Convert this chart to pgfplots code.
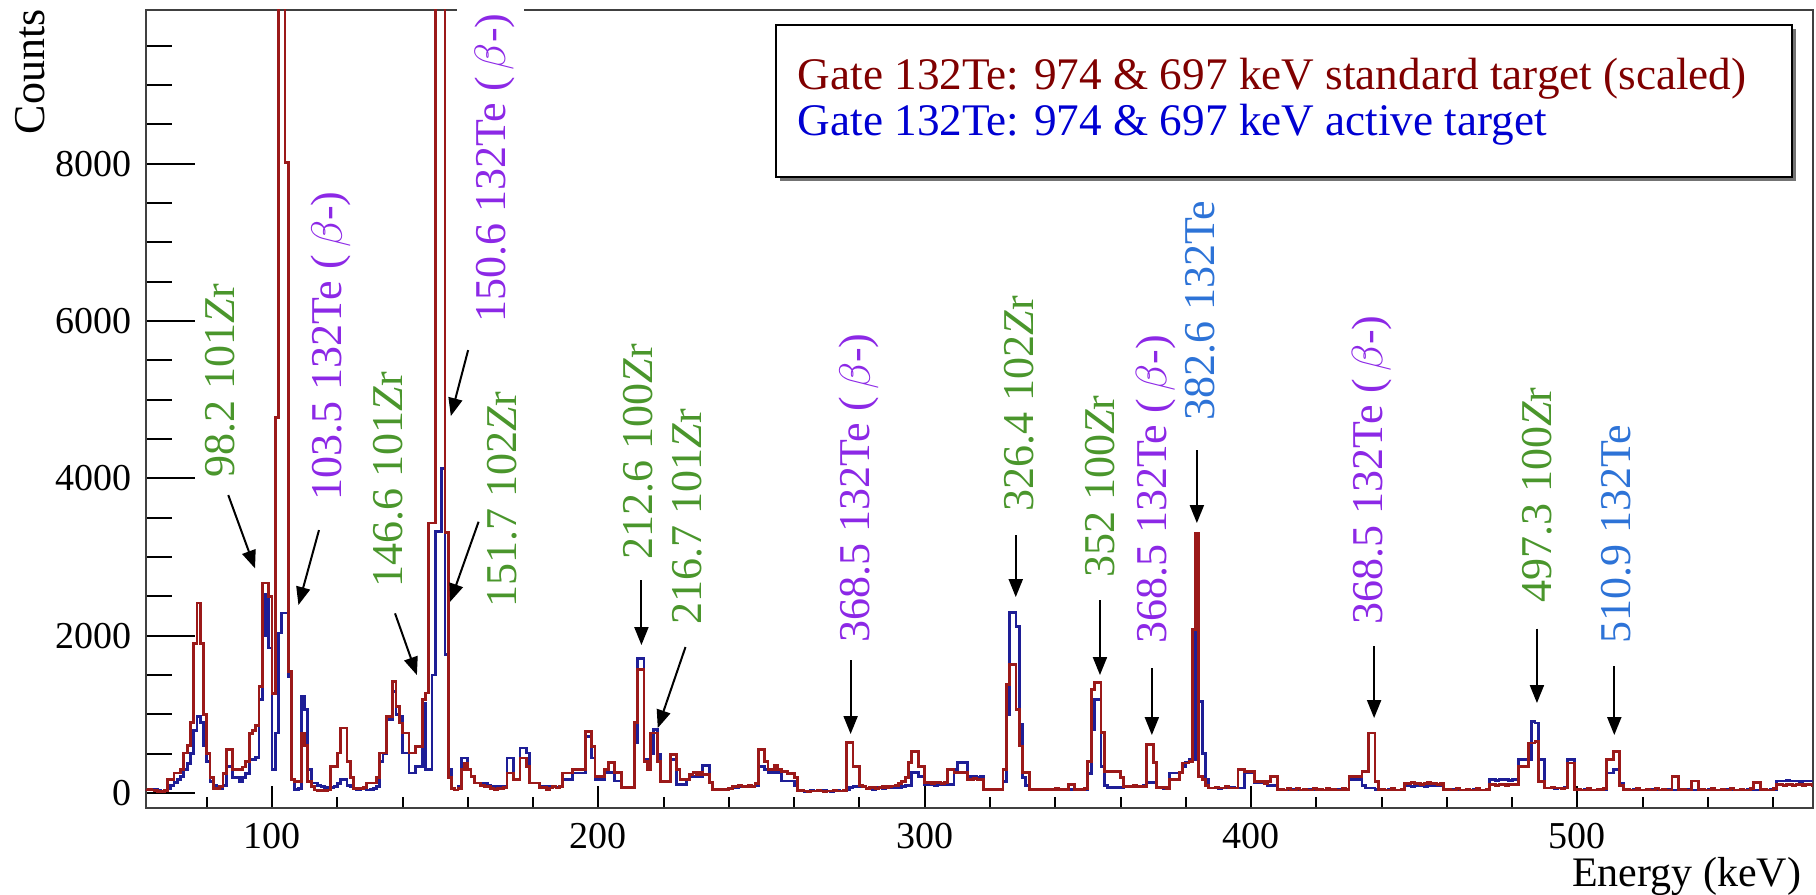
\documentclass[border=0pt]{standalone}
\usepackage{fontspec}
\setmainfont{Liberation Serif}
\usepackage{pgfplots}
\usepackage{pgfplotstable}
\pgfplotsset{compat=1.18}
\usetikzlibrary{arrows.meta}
\definecolor{hred}{RGB}{155,25,25}
\definecolor{hblue}{RGB}{30,30,150}
\definecolor{lgreen}{RGB}{74,150,44}
\definecolor{lpurple}{RGB}{140,40,230}
\definecolor{lblue}{RGB}{45,115,215}
\definecolor{legred}{RGB}{128,0,0}
\definecolor{legblue}{RGB}{0,0,210}
\newcommand\tickfont{\fontsize{9.5}{11}\selectfont}
\newcommand\lblfont{\fontsize{11}{13}\selectfont}
\newcommand\Zr{\textit{Z}r}
\newcommand\betam{(\,$\beta$-)}

\pgfplotstableread[row sep=\\]{
E R B\\
61 40 40\\ 62 45 40\\ 63 40 50\\ 64 30 45\\ 65 20 30\\ 66 20 25\\ 67 30 30\\ 68 170 60\\
69 170 100\\ 70 254 130\\ 71 254 170\\ 72 300 210\\ 73 510 300\\ 74 600 380\\ 75 900 500\\ 76 1900 800\\
77 2415 975\\ 78 1906 900\\ 79 1000 600\\ 80 500 400\\ 81 200 150\\ 82 60 100\\ 83 60 80\\ 84 80 60\\
85 250 100\\ 86 550 340\\ 87 550 340\\ 88 300 200\\ 89 300 200\\ 90 300 150\\ 91 330 200\\ 92 400 250\\
93 760 420\\ 94 800 430\\ 95 860 450\\ 96 1356 1186\\ 97 2670 2000\\ 98 2670 2520\\ 99 2500 1843\\ 100 1270 297\\
101 4770 763\\ 102 20000 2034\\ 103 20000 2288\\ 104 8015 2288\\ 105 1546 1483\\ 106 170 170\\ 107 150 50\\ 108 150 60\\
109 760 1229\\ 110 600 1060\\ 111 150 297\\ 112 80 127\\ 113 40 127\\ 114 30 100\\ 115 30 80\\ 116 30 70\\
117 40 60\\ 118 340 70\\ 119 340 80\\ 120 510 120\\ 121 826 170\\ 122 826 170\\ 123 400 100\\ 124 200 80\\
125 60 60\\ 126 60 50\\ 127 60 60\\ 128 70 60\\ 129 127 40\\ 130 127 50\\ 131 127 60\\ 132 200 80\\
133 508 400\\ 134 508 500\\ 135 975 932\\ 136 975 932\\ 137 1420 1292\\ 138 1100 1000\\ 139 890 975\\ 140 763 508\\
141 763 508\\ 142 508 254\\ 143 508 254\\ 144 593 339\\ 145 593 339\\ 146 1186 1144\\ 147 1271 297\\ 148 3432 297\\
149 3432 1500\\ 150 20000 3326\\ 151 20000 3326\\ 152 20000 4130\\ 153 3310 1758\\ 154 200 300\\ 155 60 60\\ 156 40 40\\
157 60 80\\ 158 300 445\\ 159 380 445\\ 160 300 300\\ 161 210 210\\ 162 127 127\\ 163 127 127\\ 164 100 127\\
165 80 127\\ 166 80 100\\ 167 60 85\\ 168 50 85\\ 169 60 70\\ 170 60 85\\ 171 70 85\\ 172 254 445\\
173 254 445\\ 174 170 170\\ 175 170 170\\ 176 445 572\\ 177 445 572\\ 178 339 508\\ 179 127 127\\ 180 127 127\\
181 127 127\\ 182 64 85\\ 183 70 85\\ 184 50 70\\ 185 64 85\\ 186 80 85\\ 187 64 70\\ 188 80 85\\
189 254 170\\ 190 254 170\\ 191 254 170\\ 192 297 254\\ 193 297 254\\ 194 297 254\\ 195 297 254\\ 196 784 720\\
197 784 720\\ 198 593 445\\ 199 212 170\\ 200 212 170\\ 201 212 170\\ 202 300 257\\ 203 384 257\\ 204 384 257\\
205 257 152\\ 206 257 152\\ 207 67 67\\ 208 67 67\\ 209 67 67\\ 210 67 67\\ 211 900 639\\ 212 1571 1706\\
213 1571 1706\\ 214 400 430\\ 215 297 430\\ 216 763 500\\ 217 763 805\\ 218 400 490\\ 219 150 152\\ 220 150 152\\
221 150 152\\ 222 490 427\\ 223 490 427\\ 224 300 110\\ 225 170 110\\ 226 170 110\\ 227 170 170\\ 228 235 213\\
229 260 213\\ 230 235 213\\ 231 257 213\\ 232 235 350\\ 233 235 350\\ 234 130 130\\ 235 45 45\\ 236 45 45\\
237 45 45\\ 238 45 45\\ 239 45 45\\ 240 60 60\\ 241 85 85\\ 242 85 70\\ 243 100 85\\ 244 85 85\\
245 85 85\\ 246 100 85\\ 247 85 85\\ 248 120 100\\ 249 554 342\\ 250 554 342\\ 251 400 300\\ 252 300 257\\
253 300 257\\ 254 350 257\\ 255 300 257\\ 256 279 152\\ 257 279 152\\ 258 250 152\\ 259 250 152\\ 260 200 100\\
261 25 25\\ 262 30 25\\ 263 25 20\\ 264 20 25\\ 265 25 30\\ 266 25 25\\ 267 30 25\\ 268 25 25\\
269 20 30\\ 270 25 25\\ 271 25 20\\ 272 30 25\\ 273 25 30\\ 274 25 25\\ 275 30 40\\ 276 639 50\\
277 639 70\\ 278 342 85\\ 279 342 85\\ 280 100 90\\ 281 85 85\\ 282 60 60\\ 283 67 67\\ 284 67 50\\
285 60 67\\ 286 67 67\\ 287 80 60\\ 288 67 67\\ 289 80 67\\ 290 90 67\\ 291 100 67\\ 292 120 67\\
293 150 80\\ 294 200 100\\ 295 384 100\\ 296 533 257\\ 297 533 257\\ 298 342 213\\ 299 342 213\\ 300 130 110\\
301 130 110\\ 302 120 110\\ 303 130 100\\ 304 130 110\\ 305 120 110\\ 306 130 110\\ 307 300 110\\ 308 300 110\\
309 257 300\\ 310 257 384\\ 311 257 384\\ 312 257 384\\ 313 170 213\\ 314 170 213\\ 315 180 213\\ 316 170 200\\
317 170 213\\ 318 45 45\\ 319 45 45\\ 320 45 50\\ 321 45 45\\ 322 50 45\\ 323 45 45\\ 324 300 150\\
325 1380 1000\\ 326 1634 2291\\ 327 1634 2291\\ 328 1062 2122\\ 329 597 872\\ 330 257 200\\ 331 257 100\\ 332 45 45\\
333 45 45\\ 334 50 40\\ 335 45 45\\ 336 40 50\\ 337 45 45\\ 338 50 45\\ 339 45 50\\ 340 60 45\\
341 45 45\\ 342 45 40\\ 343 50 45\\ 344 110 50\\ 345 110 45\\ 346 50 45\\ 347 45 50\\ 348 45 45\\
349 60 50\\ 350 400 250\\ 351 1316 807\\ 352 1401 1190\\ 353 1401 1190\\ 354 766 342\\ 355 279 100\\ 356 279 67\\
357 279 67\\ 358 279 67\\ 359 279 67\\ 360 200 67\\ 361 85 85\\ 362 85 85\\ 363 85 85\\ 364 100 85\\
365 85 85\\ 366 85 85\\ 367 85 100\\ 368 619 130\\ 369 619 130\\ 370 384 130\\ 371 67 67\\ 372 67 67\\
373 67 60\\ 374 60 67\\ 375 170 254\\ 376 170 254\\ 377 170 254\\ 378 257 254\\ 379 381 339\\ 380 381 384\\
381 400 424\\ 382 2076 424\\ 383 3305 2457\\ 384 212 1165\\ 385 170 500\\ 386 100 170\\ 387 64 64\\ 388 64 64\\
389 70 64\\ 390 64 60\\ 391 64 64\\ 392 80 64\\ 393 64 64\\ 394 64 70\\ 395 64 64\\ 396 297 64\\
397 297 64\\ 398 275 254\\ 399 275 254\\ 400 275 254\\ 401 150 130\\ 402 150 130\\ 403 150 130\\ 404 120 130\\
405 150 100\\ 406 212 100\\ 407 212 100\\ 408 40 40\\ 409 50 40\\ 410 40 40\\ 411 60 50\\ 412 40 40\\
413 40 50\\ 414 60 40\\ 415 40 40\\ 416 50 40\\ 417 40 40\\ 418 40 50\\ 419 60 40\\ 420 40 40\\
421 50 40\\ 422 40 40\\ 423 60 50\\ 424 40 40\\ 425 50 40\\ 426 40 50\\ 427 40 40\\ 428 60 40\\
429 50 40\\ 430 212 170\\ 431 212 170\\ 432 212 170\\ 433 212 170\\ 434 275 100\\ 435 275 64\\ 436 763 64\\
437 763 64\\ 438 150 50\\ 439 40 40\\ 440 50 40\\ 441 40 40\\ 442 40 50\\ 443 60 40\\ 444 40 40\\
445 40 40\\ 446 50 40\\ 447 120 90\\ 448 120 90\\ 449 130 80\\ 450 120 90\\ 451 120 90\\ 452 110 90\\
453 120 80\\ 454 130 90\\ 455 120 90\\ 456 120 90\\ 457 110 90\\ 458 120 90\\ 459 40 40\\ 460 50 40\\
461 40 40\\ 462 40 50\\ 463 60 40\\ 464 40 40\\ 465 40 40\\ 466 50 40\\ 467 40 40\\ 468 40 50\\
469 60 40\\ 470 40 40\\ 471 40 40\\ 472 50 40\\ 473 110 170\\ 474 110 170\\ 475 100 160\\ 476 110 170\\
477 110 170\\ 478 100 170\\ 479 110 160\\ 480 110 170\\ 481 110 170\\ 482 339 424\\ 483 339 424\\ 484 339 424\\
485 636 424\\ 486 636 911\\ 487 657 890\\ 488 150 424\\ 489 150 424\\ 490 64 64\\ 491 64 64\\ 492 70 64\\
493 64 60\\ 494 64 64\\ 495 60 64\\ 496 64 70\\ 497 381 424\\ 498 381 424\\ 499 40 40\\ 500 50 40\\
501 40 40\\ 502 40 50\\ 503 60 40\\ 504 40 40\\ 505 40 40\\ 506 50 40\\ 507 40 40\\ 508 60 50\\
509 424 254\\ 510 424 254\\ 511 530 297\\ 512 530 297\\ 513 100 120\\ 514 40 40\\ 515 50 40\\ 516 40 40\\
517 40 50\\ 518 60 40\\ 519 40 40\\ 520 40 40\\ 521 50 40\\ 522 40 40\\ 523 40 50\\ 524 60 40\\
525 40 40\\ 526 50 40\\ 527 40 40\\ 528 40 50\\ 529 212 40\\ 530 212 40\\ 531 40 40\\ 532 50 40\\
533 40 40\\ 534 40 50\\ 535 152 40\\ 536 152 40\\ 537 40 40\\ 538 50 40\\ 539 40 40\\ 540 40 50\\
541 60 40\\ 542 40 40\\ 543 40 40\\ 544 50 40\\ 545 40 40\\ 546 40 50\\ 547 60 40\\ 548 40 40\\
549 40 40\\ 550 50 40\\ 551 40 40\\ 552 40 50\\ 553 60 40\\ 554 130 40\\ 555 130 40\\ 556 40 40\\
557 50 40\\ 558 40 40\\ 559 40 50\\ 560 60 40\\ 561 110 152\\ 562 110 152\\ 563 100 152\\ 564 110 160\\
565 110 152\\ 566 100 152\\ 567 110 152\\ 568 110 140\\ 569 100 152\\ 570 110 152\\ 571 110 152\\ 572 100 152\\
573 100 152\\
}\spec

\begin{document}
\begin{tikzpicture}
\useasboundingbox (-36.425pt,-21.75pt) rectangle (417.575pt,202pt);
\begin{axis}[
  at={(0,0)}, anchor=south west,
  scale only axis, width=416.75pt, height=199.5pt,
  xmin=61.3, xmax=572.1, ymin=-190, ymax=9955,
  clip mode=individual,
  axis line style={black!75, line width=0.6pt},
  tick align=inside, xtick pos=bottom, ytick pos=left,
  xtick={100,200,300,400,500},
  ytick={0,2000,4000,6000,8000},
  minor xtick={80,120,140,160,180,220,240,260,280,320,340,360,380,420,440,460,480,520,540,560},
  minor ytick={500,1000,1500,2500,3000,3500,4500,5000,5500,6500,7000,7500,8500,9000,9500},
  xtick style={black, line width=0.5pt, /pgfplots/major tick length=5.5pt, /pgfplots/minor tick length=2.75pt},
  ytick style={black, line width=0.5pt, /pgfplots/major tick length=12.25pt, /pgfplots/minor tick length=6.5pt},
  tick label style={font=\tickfont},
  /pgf/number format/1000 sep={},
  /pgf/number format/assume math mode=true,
  scaled ticks=false,
  yticklabel style={inner sep=0pt, xshift=-3.25pt},
  xticklabel style={inner sep=0pt, yshift=-3.5pt},
  xlabel={Energy (keV)},
  xlabel style={at={(rel axis cs:0.9936,-0.0614)}, anchor=north east, inner sep=0pt, font=\fontsize{10.5}{12}\selectfont},
  ylabel={Counts},
  ylabel style={at={(rel axis cs:-0.0694,1.0018)}, anchor=east, inner sep=0pt, rotate=0, font=\fontsize{11}{13}\selectfont},
]
\addplot[const plot, draw=hblue, line width=0.7pt] table[x=E,y=B] {\spec};
\addplot[const plot, draw=hred, line width=0.7pt] table[x=E,y=R] {\spec};

% peak labels
\begin{scope}[every node/.style={rotate=90, anchor=mid west, inner sep=0pt, font=\lblfont}]
\node[text=lgreen]  at (axis cs:85.6,4004)  {98.2 101\Zr};
\node[text=lpurple] at (axis cs:118.6,3712) {103.5 132Te \betam};
\node[text=lgreen]  at (axis cs:137.1,2606) {146.6 101\Zr};
\node[text=lpurple] at (axis cs:168.6,5974) {150.6 132Te \betam};
\node[text=lgreen]  at (axis cs:172.1,2352) {151.7 102\Zr};
\node[text=lgreen]  at (axis cs:213.7,2962) {212.6 100\Zr};
\node[text=lgreen]  at (axis cs:228.8,2135) {216.7 101\Zr};
\node[text=lpurple] at (axis cs:280.4,1907) {368.5 132Te \betam};
\node[text=lgreen]  at (axis cs:330.4,3566) {326.4 102\Zr};
\node[text=lgreen]  at (axis cs:355.2,2725) {352 100\Zr};
\node[text=lpurple] at (axis cs:371.2,1886) {368.5 132Te \betam};
\node[text=lblue]   at (axis cs:385.9,4729) {382.6 132Te};
\node[text=lpurple] at (axis cs:437.4,2135) {368.5 132Te \betam};
\node[text=lgreen]  at (axis cs:489.3,2407) {497.3 100\Zr};
\node[text=lblue]   at (axis cs:513.5,1886) {510.9 132Te};
\end{scope}

% arrows
\begin{scope}[line width=0.5pt, -{Triangle[width=3.5pt,length=4.5pt]}]
\draw (axis cs:86.6,3788) -- (axis cs:94.8,2856);
\draw (axis cs:114.4,3343) -- (axis cs:108.1,2390);
\draw (axis cs:137.7,2284) -- (axis cs:144.4,1500);
\draw (axis cs:160.1,5631) -- (axis cs:154.8,4792);
\draw (axis cs:163.3,3449) -- (axis cs:154.6,2432);
\draw (axis cs:213.2,2708) -- (axis cs:213.2,1881);
\draw (axis cs:226.7,1856) -- (axis cs:218.2,826);
\draw (axis cs:277.3,1691) -- (axis cs:277.3,750);
\draw (axis cs:327.9,3280) -- (axis cs:327.9,2491);
\draw (axis cs:353.7,2453) -- (axis cs:353.7,1500);
\draw (axis cs:369.6,1589) -- (axis cs:369.6,737);
\draw (axis cs:383.4,4360) -- (axis cs:383.4,3432);
\draw (axis cs:437.7,1869) -- (axis cs:437.7,953);
\draw (axis cs:487.6,2090) -- (axis cs:487.6,1144);
\draw (axis cs:511.3,1614) -- (axis cs:511.3,737);
\end{scope}

% legend
\fill[black!55] ([xshift=1pt,yshift=-1pt]rel axis cs:0.3781,0.7907) rectangle ([xshift=1pt,yshift=-1pt]rel axis cs:0.9876,0.9812);
\filldraw[fill=white, draw=black, line width=0.5pt] (rel axis cs:0.3781,0.7907) rectangle (rel axis cs:0.9876,0.9812);
\node[anchor=west, inner sep=0pt, text=legred, font=\fontsize{11.3}{13}\selectfont] at (rel axis cs:0.3907,0.9135) {Gate 132Te: 974 \& 697 keV standard target (scaled)};
\node[anchor=west, inner sep=0pt, text=legblue, font=\fontsize{11.3}{13}\selectfont] at (rel axis cs:0.3907,0.8559) {Gate 132Te: 974 \& 697 keV active target};

\coordinate (g1) at (rel axis cs:0.1867,0.995);
\coordinate (g2) at (rel axis cs:0.2269,1.006);
\end{axis}
\fill[white] (g1) rectangle (g2);
\end{tikzpicture}
\end{document}
